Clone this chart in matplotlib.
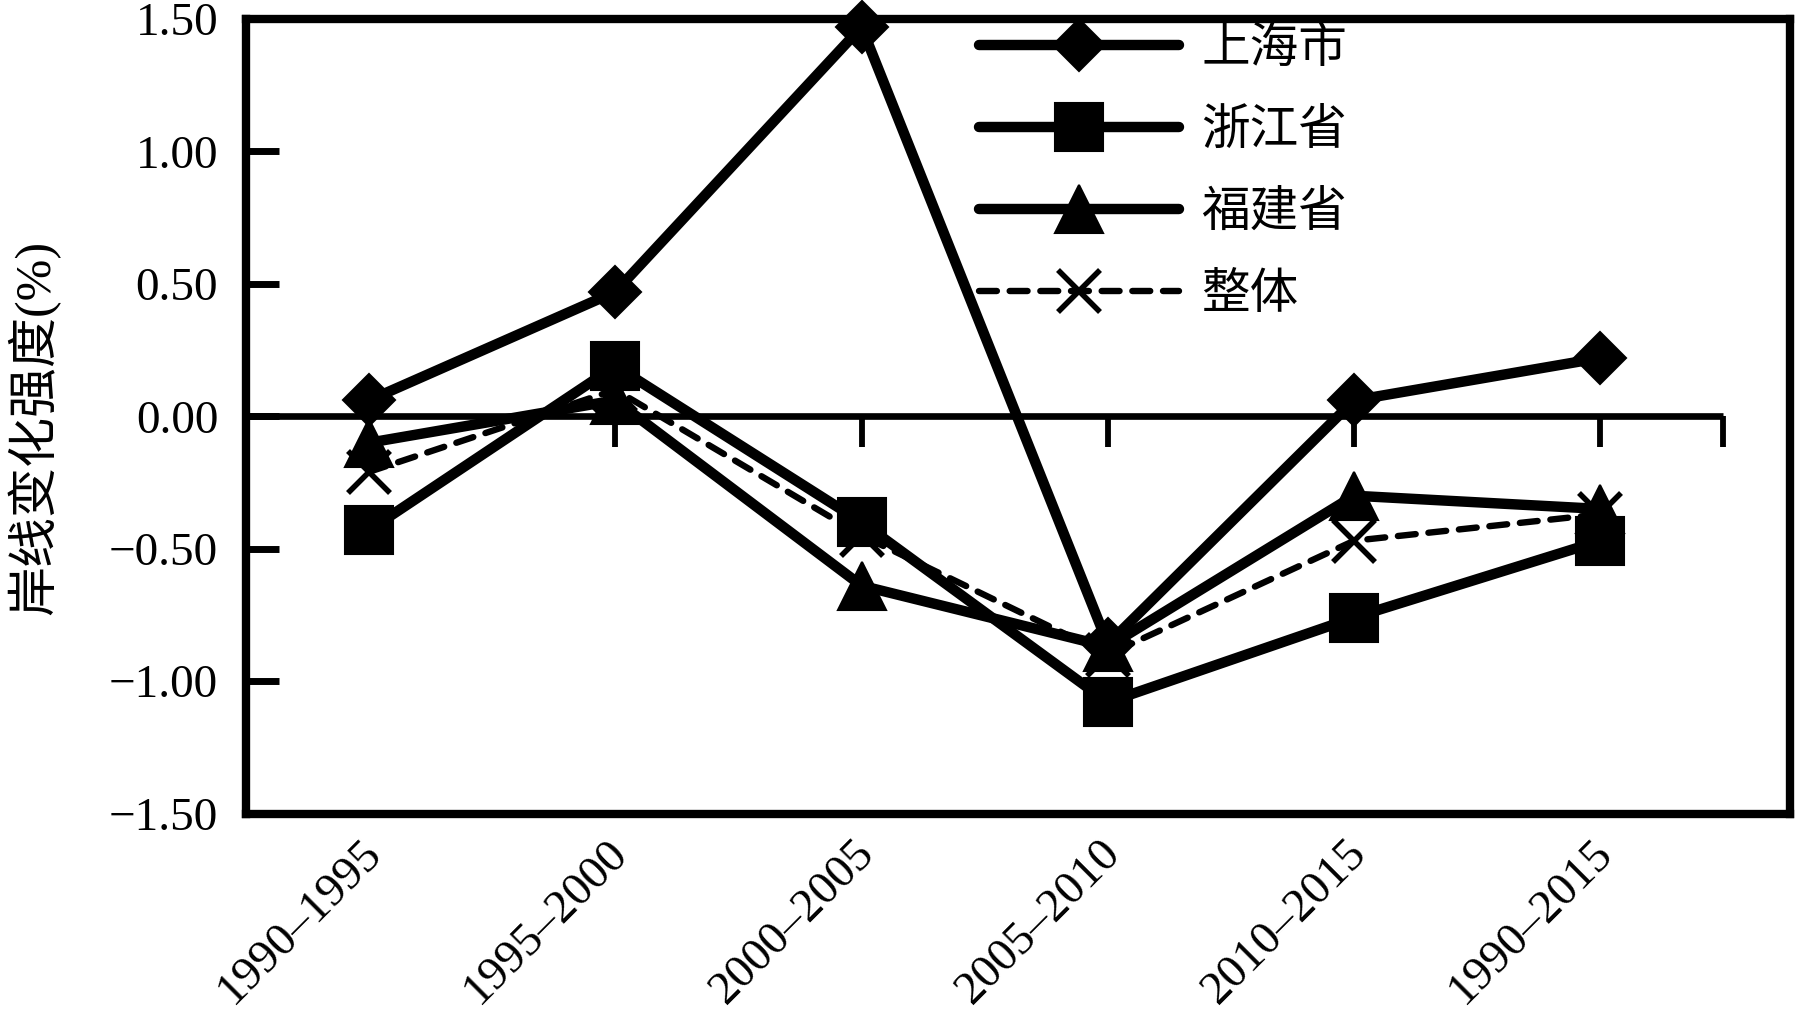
import matplotlib
matplotlib.use('Agg')
import matplotlib.pyplot as plt
import numpy as np
from matplotlib.transforms import ScaledTranslation
from matplotlib.font_manager import FontProperties

# ---- data ----
categories = ['1990–1995', '1995–2000', '2000–2005', '2005–2010', '2010–2015', '1990–2015']
series_names = ['上海市', '浙江省', '福建省', '整体']
shanghai = [0.06, 0.47, 1.47, -0.86, 0.06, 0.22]
zhejiang = [-0.43, 0.19, -0.40, -1.08, -0.76, -0.47]
fujian = [-0.10, 0.06, -0.64, -0.87, -0.30, -0.35]
overall = [-0.21, 0.10, -0.45, -0.90, -0.47, -0.37]
y_ticks = [1.5, 1.0, 0.5, 0.0, -0.5, -1.0, -1.5]
y_tick_labels = ['1.50', '1.00', '0.50', '0.00', '\u22120.50', '\u22121.00', '\u22121.50']
y_label = '岸线变化强度(%)'

serif = ['Liberation Serif', 'Noto Sans CJK SC']
mixed = ['Liberation Serif', 'Noto Sans CJK SC']

fig = plt.figure(figsize=(17.95, 10.16), dpi=100)
ax = fig.add_axes([0.137, 0.1993, 0.8602, 0.782])

x = np.arange(len(categories))
n = len(categories)

# zero axis line with downward ticks
ax.plot([-0.5, n - 0.5], [0, 0], color='k', lw=4.8, zorder=1.5, clip_on=False,
        solid_capstyle='butt')
tick_pos = np.append(x, n - 0.5)
ax.plot(tick_pos, np.zeros_like(tick_pos, dtype=float), ls='none', marker=3,
        ms=22, mew=4.2, color='k', zorder=1.5)

line_kw = dict(color='k', lw=7.5, solid_capstyle='round', solid_joinstyle='round',
               markeredgecolor='k', markerfacecolor='k', clip_on=False)
ax.plot(x, shanghai, marker='D', ms=26, mew=1.5, label=series_names[0], zorder=3, **line_kw)
ax.plot(x, zhejiang, marker='s', ms=35, mew=1.5, label=series_names[1], zorder=3, **line_kw)
ax.plot(x, fujian, marker='^', ms=35, mew=1.5, label=series_names[2], zorder=3, **line_kw)
ax.plot(x, overall, color='k', lw=4.6, ls=(0, (2.8, 2.0)), dash_capstyle='round',
        marker='x', ms=30, mew=4.0, label=series_names[3], zorder=4, clip_on=False)

ax.set_xlim(-0.5, 5.77)
ax.set_ylim(-1.5, 1.5)

for s in ax.spines.values():
    s.set_linewidth(6)

ax.set_yticks(y_ticks)
ax.set_yticklabels(y_tick_labels, fontfamily=serif, fontsize=34)
ax.tick_params(axis='y', direction='in', length=24, width=5, pad=20)

ax.set_xticks(x)
ax.set_xticklabels(categories, fontfamily=serif, fontsize=34, rotation=45,
                   ha='right', rotation_mode='anchor')
ax.tick_params(axis='x', length=0, pad=13)
offset = ScaledTranslation(-0.09, 0, fig.dpi_scale_trans)
for lab in ax.get_xticklabels():
    lab.set_transform(lab.get_transform() + offset)

ax.set_ylabel(y_label, fontfamily=mixed, fontsize=36)
ax.yaxis.set_label_coords(-0.12, 0.4865)

leg = ax.legend(loc='upper left', bbox_to_anchor=(0.475, 0.99), frameon=False,
                handlelength=4.1, handletextpad=0.46, labelspacing=0.76,
                borderpad=0, borderaxespad=0,
                prop=FontProperties(family=mixed, size=35))

fig.savefig('out.png', dpi=100)
